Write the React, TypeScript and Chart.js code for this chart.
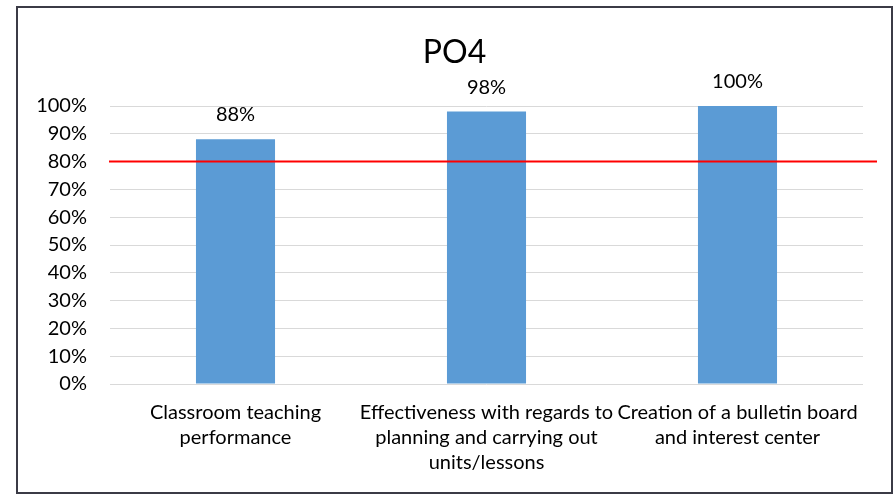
import React, { useEffect, useRef } from "react";
import { Chart, registerables } from "chart.js";

Chart.register(...registerables);

// ---- Data ----
const TITLE = "PO4";
const categories: string[][] = [
  ["Classroom teaching", "performance"],
  ["Effectiveness with regards to", "planning and carrying out", "units/lessons"],
  ["Creation of a bulletin board", "and interest center"],
];
const values: number[] = [88, 98, 100];
const TARGET = 80;
const Y_MIN = 0;
const Y_MAX = 100;
const Y_STEP = 10;

// ---- Style ----
const FONT = "Lato, 'Open Sans', sans-serif";
const BAR_COLOR = "#5B9BD5";
const GRID_COLOR = "#D9D9D9";
const TARGET_COLOR = "#FF0000";
const TEXT_COLOR = "#000000";
const W = 895;
const H = 497;

const overlayPlugin = {
  id: "overlay",
  beforeDraw(chart: any) {
    const ctx = chart.ctx;
    ctx.save();
    ctx.fillStyle = "#ffffff";
    ctx.fillRect(0, 0, chart.width, chart.height);
    ctx.restore();
  },
  afterDatasetsDraw(chart: any) {
    const ctx = chart.ctx;
    const area = chart.chartArea;
    const yScale = chart.scales.y;
    ctx.save();
    // target line
    const ty = yScale.getPixelForValue(TARGET);
    ctx.strokeStyle = TARGET_COLOR;
    ctx.lineWidth = 2;
    ctx.beginPath();
    ctx.moveTo(area.left - 1, ty);
    ctx.lineTo(area.right + 14, ty);
    ctx.stroke();

    // data labels
    ctx.fillStyle = TEXT_COLOR;
    ctx.font = `20px ${FONT}`;
    ctx.textAlign = "center";
    ctx.textBaseline = "alphabetic";
    const meta = chart.getDatasetMeta(0);
    meta.data.forEach((bar: any, i: number) => {
      ctx.fillText(values[i] + "%", bar.x, bar.y - 18);
    });

    // title
    ctx.font = `32px ${FONT}`;
    ctx.fillText(TITLE, 454.5, 63);

    // frame
    ctx.strokeStyle = "#3b3b46";
    ctx.lineWidth = 2;
    ctx.strokeRect(17, 7, 875, 486);
    ctx.restore();
  },
};

export default function App() {
  const ref = useRef<HTMLCanvasElement | null>(null);

  useEffect(() => {
    if (!ref.current) return;
    const chart = new Chart(ref.current, {
      type: "bar",
      data: {
        labels: categories,
        datasets: [
          {
            data: values,
            backgroundColor: BAR_COLOR,
            borderWidth: 0,
            categoryPercentage: 1,
            barPercentage: 0.315,
          },
        ],
      },
      options: {
        responsive: false,
        animation: false,
        devicePixelRatio: 1,
        layout: { padding: { left: 16, right: 32, top: 106, bottom: 3 } },
        plugins: {
          legend: { display: false },
          title: { display: false },
          tooltip: { enabled: false },
        },
        scales: {
          x: {
            grid: { display: false, drawTicks: false },
            border: { display: false },
            ticks: {
              color: TEXT_COLOR,
              font: { family: FONT, size: 20, lineHeight: 1.25 },
              padding: 16,
              maxRotation: 0,
              autoSkip: false,
            },
            afterFit: (s: any) => {
              s.height = 110;
            },
          },
          y: {
            min: Y_MIN,
            max: Y_MAX,
            grid: { color: GRID_COLOR, lineWidth: 1, drawTicks: false },
            border: { display: false },
            ticks: {
              stepSize: Y_STEP,
              color: TEXT_COLOR,
              font: { family: FONT, size: 20 },
              padding: 23,
              callback: (v: any) => v + "%",
            },
            afterFit: (s: any) => {
              s.width = 94;
            },
          },
        },
      },
      plugins: [overlayPlugin],
    });
    return () => chart.destroy();
  }, []);

  return (
    <div style={{ position: "absolute", left: 0, top: 0, width: W, height: H }}>
      <canvas ref={ref} width={W} height={H} />
    </div>
  );
}
